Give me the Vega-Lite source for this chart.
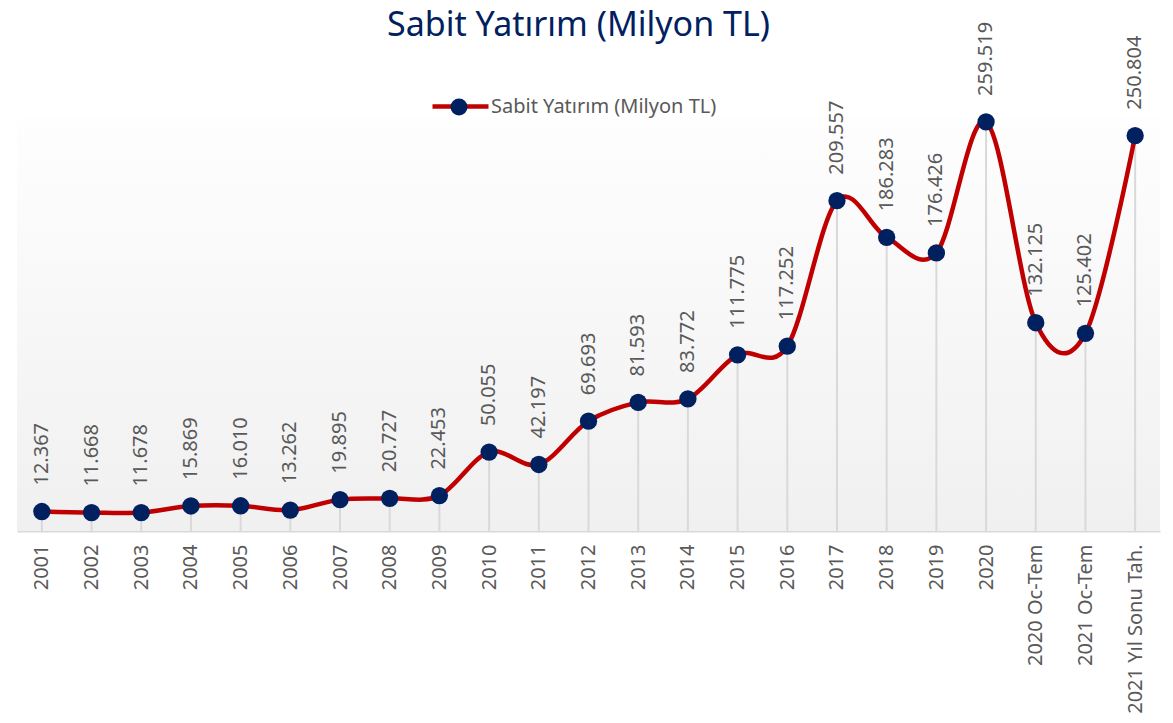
{
  "$schema": "https://vega.github.io/schema/vega-lite/v6.json",
  "autosize": {"type": "none"},
  "width": 1143,
  "height": 413,
  "padding": {"left": 17, "top": 118, "right": 13, "bottom": 192},
  "background": "#ffffff",
  "config": {
    "view": {"stroke": null},
    "locale": {"number": {"decimal": ",", "thousands": ".", "grouping": [3], "currency": ["", " TL"]}},
    "font": "Noto Sans"
  },
  "title": {
    "text": "Sabit Yatırım (Milyon TL)",
    "font": "Noto Sans",
    "fontSize": 34,
    "fontWeight": "normal",
    "color": "#002060",
    "anchor": "middle",
    "dx": -10,
    "dy": 25
  },
  "data": {
    "values": [
      {"period": "2001", "value": 12367},
      {"period": "2002", "value": 11668},
      {"period": "2003", "value": 11678},
      {"period": "2004", "value": 15869},
      {"period": "2005", "value": 16010},
      {"period": "2006", "value": 13262},
      {"period": "2007", "value": 19895},
      {"period": "2008", "value": 20727},
      {"period": "2009", "value": 22453},
      {"period": "2010", "value": 50055},
      {"period": "2011", "value": 42197},
      {"period": "2012", "value": 69693},
      {"period": "2013", "value": 81593},
      {"period": "2014", "value": 83772},
      {"period": "2015", "value": 111775},
      {"period": "2016", "value": 117252},
      {"period": "2017", "value": 209557},
      {"period": "2018", "value": 186283},
      {"period": "2019", "value": 176426},
      {"period": "2020", "value": 259519},
      {"period": "2020 Oc-Tem", "value": 132125},
      {"period": "2021 Oc-Tem", "value": 125402},
      {"period": "2021 Yıl Sonu Tah.", "value": 250804}
    ]
  },
  "encoding": {
    "x": {
      "field": "period",
      "type": "nominal",
      "sort": null,
      "scale": {"type": "point", "padding": 0.5},
      "axis": {
        "title": null,
        "labelAngle": 270,
        "labelAlign": "right",
        "labelBaseline": "middle",
        "labelFont": "Noto Sans",
        "labelFontSize": 20,
        "labelColor": "#595959",
        "labelPadding": 13,
        "ticks": false,
        "domainColor": "#d9d9d9",
        "domainWidth": 2,
        "grid": false
      }
    },
    "y": {
      "field": "value",
      "type": "quantitative",
      "scale": {"domain": [0, 262000], "nice": false, "zero": true},
      "axis": null
    }
  },
  "layer": [
    {
      "data": {"values": [{"lo": 0, "hi": 262000}]},
      "mark": {
        "type": "rect",
        "fill": {
          "gradient": "linear",
          "x1": 0, "y1": 0, "x2": 0, "y2": 1,
          "stops": [
            {"offset": 0, "color": "#fefefe"},
            {"offset": 1, "color": "#f0f0f0"}
          ]
        }
      },
      "encoding": {
        "x": null,
        "y": {"field": "lo", "type": "quantitative"},
        "y2": {"field": "hi"}
      }
    },
    {
      "mark": {"type": "rule", "color": "#d9d9d9", "strokeWidth": 2},
      "encoding": {
        "y": {"datum": 0, "type": "quantitative"},
        "y2": {"field": "value"}
      }
    },
    {
      "mark": {"type": "line", "interpolate": "cardinal", "strokeWidth": 4.5},
      "encoding": {
        "stroke": {
          "datum": "Sabit Yatırım (Milyon TL)",
          "scale": {"range": ["#c00000"]},
          "legend": {
            "title": null,
            "orient": "none",
            "legendX": 413,
            "legendY": -42,
            "symbolType": "stroke",
            "symbolSize": 3136,
            "symbolStrokeWidth": 4.5,
            "labelFont": "Noto Sans",
            "labelFontSize": 20,
            "labelColor": "#595959",
            "labelOffset": 0,
            "labelLimit": 500
          }
        }
      }
    },
    {
      "mark": {"type": "point", "filled": true, "shape": "circle", "size": 300, "opacity": 1},
      "encoding": {
        "fill": {
          "datum": "marker",
          "scale": {"range": ["#002060"]},
          "legend": {
            "title": null,
            "orient": "none",
            "legendX": 432,
            "legendY": -21,
            "symbolType": "circle",
            "symbolSize": 289,
            "symbolStrokeWidth": 0,
            "symbolOpacity": 1,
            "labelExpr": "''",
            "labelFontSize": 20
          }
        }
      }
    },
    {
      "mark": {
        "type": "text",
        "angle": 270,
        "align": "left",
        "baseline": "middle",
        "dx": 26,
        "font": "Noto Sans",
        "fontSize": 20,
        "color": "#595959"
      },
      "encoding": {
        "text": {"field": "value", "type": "quantitative", "format": ",d"}
      }
    }
  ]
}
